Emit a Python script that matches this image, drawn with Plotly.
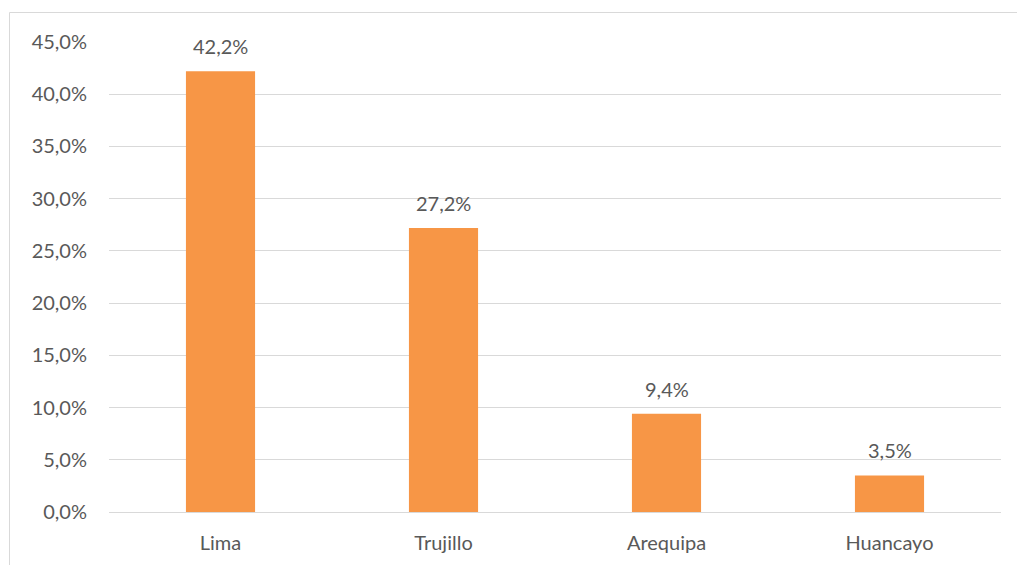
import plotly.graph_objects as go

categories = ["Lima", "Trujillo", "Arequipa", "Huancayo"]
values = [42.2, 27.2, 9.4, 3.5]
value_labels = ["42,2%", "27,2%", "9,4%", "3,5%"]
tick_vals = [0, 5, 10, 15, 20, 25, 30, 35, 40, 45]
tick_text = ["0,0%", "5,0%", "10,0%", "15,0%", "20,0%", "25,0%", "30,0%", "35,0%", "40,0%", "45,0%"]

FONT = "Lato, Open Sans, sans-serif"
TXT = "#595959"
FS = 20

fig = go.Figure(go.Bar(x=categories, y=values, marker_color="#F79646", width=0.31,
                       marker_line_width=0))

for c, v, t in zip(categories, values, value_labels):
    fig.add_annotation(x=c, y=v, text=t, showarrow=False, yanchor="middle", yshift=25,
                       font=dict(family=FONT, size=FS, color=TXT))

W, H = 1017, 565
ml, mr, mt, mb = 109, 16, 42, 53
pw, ph = W - ml - mr, H - mt - mb
bx = (9.5 - ml) / pw
by = (H - mb - 12.5) / ph
fig.add_shape(type="line", xref="paper", yref="paper", x0=bx, x1=1.05, y0=by, y1=by,
              line=dict(color="#D9D9D9", width=1))
fig.add_shape(type="line", xref="paper", yref="paper", x0=bx, x1=bx, y0=by, y1=-0.2,
              line=dict(color="#D9D9D9", width=1))

fig.update_layout(
    width=W, height=H,
    margin=dict(l=ml, r=mr, t=mt, b=mb),
    paper_bgcolor="white", plot_bgcolor="white",
    showlegend=False,
    font=dict(family=FONT, size=FS, color=TXT),
)
fig.update_xaxes(showline=False, ticks="", ticklabelstandoff=17, automargin=False,
                 tickfont=dict(family=FONT, size=FS, color=TXT))
fig.update_yaxes(range=[0, 45], tickvals=tick_vals, ticktext=tick_text,
                 showgrid=True, gridcolor="#D9D9D9", gridwidth=1,
                 zeroline=True, zerolinecolor="#D9D9D9", zerolinewidth=1,
                 ticks="", ticklabelstandoff=21, automargin=False,
                 tickfont=dict(family=FONT, size=FS, color=TXT))

fig.write_html("out.html")
